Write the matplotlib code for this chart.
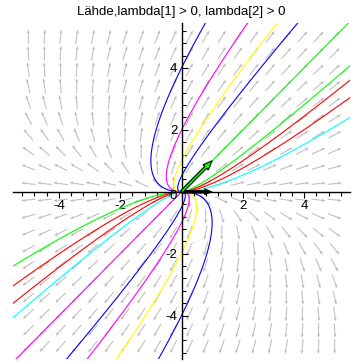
import numpy as np
import matplotlib
matplotlib.use("Agg")
import matplotlib.pyplot as plt

plt.rcParams['axes.unicode_minus'] = False

# ---- data ----
title = "Lähde,lambda[1] > 0, lambda[2] > 0"
lambda1 = 1.0
lambda2 = 2.0
v1 = [1.0, 0.0]          # eigenvector for lambda1 (black arrow)
v2 = [1.0, 1.0]          # eigenvector for lambda2 (green arrow)

# trajectories  x - y = K * sqrt(|y|)
upper_K = [-2.0, -1.41, -1.0, -0.71, 0.0, 0.71, 1.0, 1.41, 2.0]
upper_colors = ["blue", "magenta", "yellow", "blue", "lime", "lime", "red", "red", "cyan"]
lower_K = [-2.0, -1.41, -1.0, -0.71, 0.0, 0.71, 1.0, 1.41, 2.0]
lower_colors = ["lime", "red", "red", "cyan", "magenta", "blue", "magenta", "yellow", "blue"]

xticks_major = [-4, -2, 2, 4]
yticks_major = [-4, -2, 2, 4]

# ---- figure ----
fig = plt.figure(figsize=(3.63, 3.63), dpi=100)
ax = fig.add_axes([13/363, 1-359/363, 337/363, 336/363])
ax.set_xlim(-5.5, 5.5)
ax.set_ylim(-5.4, 5.45)

A = np.array([[lambda1, lambda2 - lambda1], [0.0, lambda2]])
g = np.linspace(-5, 5, 20)
X, Y = np.meshgrid(g, g)
U = A[0, 0]*X + A[0, 1]*Y
V = A[1, 0]*X + A[1, 1]*Y
N = np.hypot(U, V)
N[N == 0] = 1
L = 0.47
ax.quiver(X, Y, U/N*L, V/N*L, angles='xy', scale_units='xy', scale=1,
          pivot='middle', color='#bcbcbc', width=0.033, units='xy',
          headwidth=3.0, headlength=3.6, headaxislength=3.3, zorder=1)

u = np.linspace(0, 3, 2000)
for K, c in zip(upper_K, upper_colors):
    yy = u**2
    xx = yy + K*u
    ax.plot(xx, yy, color=c, lw=0.8, zorder=2)
for K, c in zip(lower_K, lower_colors):
    yy = -u**2
    xx = yy + K*u
    ax.plot(xx, yy, color=c, lw=0.8, zorder=2)

ax.arrow(0, 0, v1[0], v1[1], width=0.09, head_width=0.2, head_length=0.25,
         length_includes_head=True, fc='black', ec='black', lw=0.5, zorder=4)
ax.arrow(0, 0, v2[0], v2[1], width=0.09, head_width=0.24, head_length=0.3,
         length_includes_head=True, fc='lime', ec='black', lw=0.8, zorder=4)

for s in ['top', 'right']:
    ax.spines[s].set_visible(False)
ax.spines['left'].set_position(('data', 0))
ax.spines['bottom'].set_position(('data', 0))
ax.spines['left'].set_linewidth(1.0)
ax.spines['bottom'].set_linewidth(1.0)
ax.set_xticks(xticks_major)
ax.set_yticks(yticks_major)
ax.set_xticks(np.arange(-5.2, 5.5, 0.4), minor=True)
ax.set_yticks(np.arange(-5.2, 5.5, 0.4), minor=True)
ax.tick_params(axis='x', which='both', direction='out', labelsize=9.5, pad=2)
ax.tick_params(axis='y', which='both', direction='in', labelsize=9.5, pad=3)
ax.tick_params(which='major', length=4, width=0.8)
ax.tick_params(which='minor', length=3, width=0.8)
ax.text(-0.28, -0.15, "0", ha='center', va='center', fontsize=9.5, zorder=5,
        family='Liberation Sans')
for lab in ax.get_xticklabels() + ax.get_yticklabels():
    lab.set_family('Liberation Sans')
ax.patch.set_alpha(0)

fig.text(0.5, 1-12/363, title, ha='center', va='center', fontsize=9.5,
         family='Liberation Sans')
fig.savefig("out.png", dpi=100)
